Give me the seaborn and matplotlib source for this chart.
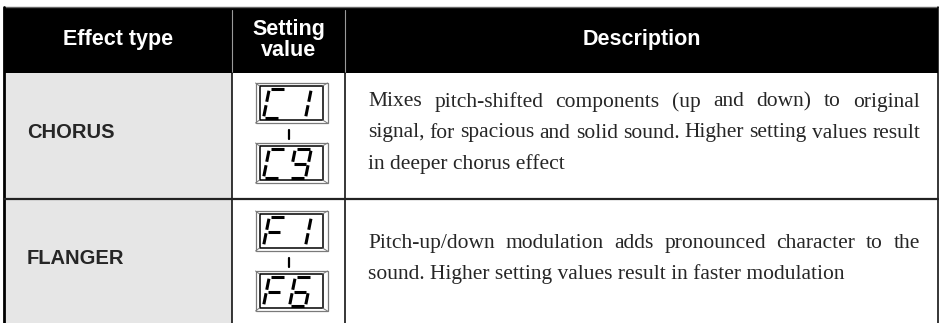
import matplotlib
matplotlib.use("Agg")
import matplotlib.pyplot as plt
import seaborn as sns
from matplotlib.patches import Rectangle

# tabel-data
HEADERS = ["Effect type", "Setting\nvalue", "Description"]
EFFECT_TYPES = ["CHORUS", "FLANGER"]
SETTING_FROM = ["C1", "F1"]
SETTING_TO = ["C9", "F6"]
DESCRIPTIONS = [
    ["Mixes pitch-shifted components (up and down) to original",
     "signal, for spacious and solid sound. Higher setting values result",
     "in deeper chorus effect"],
    ["Pitch-up/down modulation adds pronounced character to the",
     "sound. Higher setting values result in faster modulation"],
]

# layout (pixels)
W, H = 939, 323
COL_EDGES = [4, 232, 345, 938]
HEADER_TOP, HEADER_BOTTOM = 7, 73
ROW_HEIGHT = 126
TEXT_LEFT = 368
TEXT_RIGHT = 920
LINE_STEP = 31
DESC_SIZE = 15.5

SANS = "Liberation Sans"
SERIF = "Liberation Serif"

# 7-segment "font" (enhed: bredde 1, hoejde 2)
SEGMENTS = {
    "a": ((0.12, 2.0), (0.9, 2.0)),
    "b": ((1.0, 1.88), (1.0, 1.12)),
    "c": ((1.0, 0.88), (1.0, 0.12)),
    "d": ((0.1, 0.0), (0.88, 0.0)),
    "e": ((0.0, 0.12), (0.0, 0.88)),
    "f": ((0.0, 1.12), (0.0, 1.88)),
    "g": ((0.12, 1.0), (0.88, 1.0)),
}
GLYPHS = {
    "C": "adef", "F": "aefg", "1": "bc", "6": "acdefg", "9": "abcdfg",
}


def draw_segment_char(ax, ch, x0, y_bottom, w=16, h=29, slant=0.2):
    unit = h / 2
    for seg in GLYPHS[ch]:
        (u1, v1), (u2, v2) = SEGMENTS[seg]
        xs = [x0 + u1 * w + slant * v1 * unit, x0 + u2 * w + slant * v2 * unit]
        ys = [y_bottom - v1 * unit, y_bottom - v2 * unit]
        ax.plot(xs, ys, color="black", lw=2.2, solid_capstyle="butt")


def draw_lcd(ax, text, cx, top):
    bw, bh = 72, 40
    x = cx - bw / 2
    ax.add_patch(Rectangle((x, top), bw, bh, fill=False, ec="#7a7a7a", lw=0.9))
    ins = 4
    ax.add_patch(Rectangle((x + ins, top + ins - 1), bw - 2 * ins - 1, bh - 2 * ins + 2,
                           fill=False, ec="black", lw=1.1))
    # skrå hjørner (bevel)
    for (px, py), (qx, qy) in [((x, top), (x + ins, top + ins - 1)),
                               ((x + bw, top), (x + bw - ins - 1, top + ins - 1)),
                               ((x, top + bh), (x + ins, top + bh - ins + 1)),
                               ((x + bw, top + bh), (x + bw - ins - 1, top + bh - ins + 1))]:
        ax.plot([px, qx], [py, qy], color="#7a7a7a", lw=0.7)
    draw_segment_char(ax, text[0], x + 8, top + 35)
    draw_segment_char(ax, text[1], x + 34, top + 35)


def draw_line(ax, renderer, line, y, justify):
    if not justify:
        ax.text(TEXT_LEFT, y, line, fontsize=DESC_SIZE, family=SERIF, va="center", ha="left")
        return
    words = line.split(" ")
    widths = []
    for w_ in words:
        t = ax.text(0, 0, w_, fontsize=DESC_SIZE, family=SERIF)
        widths.append(t.get_window_extent(renderer).width)
        t.remove()
    gap = (TEXT_RIGHT - TEXT_LEFT - sum(widths)) / (len(words) - 1)
    x = TEXT_LEFT
    for w_, wd in zip(words, widths):
        ax.text(x, y, w_, fontsize=DESC_SIZE, family=SERIF, va="center", ha="left")
        x += wd + gap


def main():
    sns.set_theme(style="white")
    fig = plt.figure(figsize=(W / 100, H / 100), dpi=100)
    ax = fig.add_axes([0, 0, 1, 1])
    ax.set_xlim(0, W)
    ax.set_ylim(H, 0)
    ax.axis("off")
    renderer = fig.canvas.get_renderer()

    n_rows = len(EFFECT_TYPES)
    bottom = HEADER_BOTTOM + n_rows * ROW_HEIGHT

    # baggrunde
    ax.add_patch(Rectangle((COL_EDGES[0], HEADER_BOTTOM), COL_EDGES[1] - COL_EDGES[0],
                           bottom - HEADER_BOTTOM, color="#e6e6e6", lw=0))
    ax.add_patch(Rectangle((COL_EDGES[0], HEADER_TOP), COL_EDGES[-1] - COL_EDGES[0],
                           HEADER_BOTTOM - HEADER_TOP, color="black", lw=0))
    ax.plot([COL_EDGES[0], COL_EDGES[-1]], [HEADER_TOP, HEADER_TOP], color="#666666", lw=1)

    # kolonne-linjer
    for cx in COL_EDGES[1:3]:
        ax.plot([cx, cx], [HEADER_TOP + 3, HEADER_BOTTOM], color="#9a9a9a", lw=0.8)
        ax.plot([cx, cx], [HEADER_BOTTOM, bottom], color="black", lw=1.1)
    ax.plot([COL_EDGES[0], COL_EDGES[0]], [HEADER_TOP, bottom], color="black", lw=2)
    ax.plot([COL_EDGES[-1], COL_EDGES[-1]], [HEADER_TOP, bottom], color="black", lw=1.1)

    # header-tekst
    for i, head in enumerate(HEADERS):
        cx = (COL_EDGES[i] + COL_EDGES[i + 1]) / 2
        ax.text(cx, (HEADER_TOP + HEADER_BOTTOM) / 2, head, color="white", fontsize=15.5,
                fontweight="bold", family=SANS, ha="center", va="center", linespacing=1.0)

    set_cx = (COL_EDGES[1] + COL_EDGES[2]) / 2 + 3
    for r in range(n_rows):
        top = HEADER_BOTTOM + r * ROW_HEIGHT
        mid = top + ROW_HEIGHT / 2
        if r > 0:
            ax.plot([COL_EDGES[0], COL_EDGES[-1]], [top, top], color="#222222", lw=1.6)
        ax.text(27, mid - 3, EFFECT_TYPES[r], fontsize=14.5, fontweight="bold",
                family=SANS, ha="left", va="center")

        box_top = top + 10 + 2 * r
        draw_lcd(ax, SETTING_FROM[r], set_cx, box_top)
        ax.plot([set_cx - 3, set_cx - 3], [box_top + 47, box_top + 56], color="black", lw=1.6)
        draw_lcd(ax, SETTING_TO[r], set_cx, box_top + 60)

        lines = DESCRIPTIONS[r]
        y0 = mid - 3 - (len(lines) - 1) * LINE_STEP / 2
        for k, line in enumerate(lines):
            draw_line(ax, renderer, line, y0 + k * LINE_STEP, justify=(k < len(lines) - 1))

    fig.savefig("out.png", dpi=100)


if __name__ == "__main__":
    main()
